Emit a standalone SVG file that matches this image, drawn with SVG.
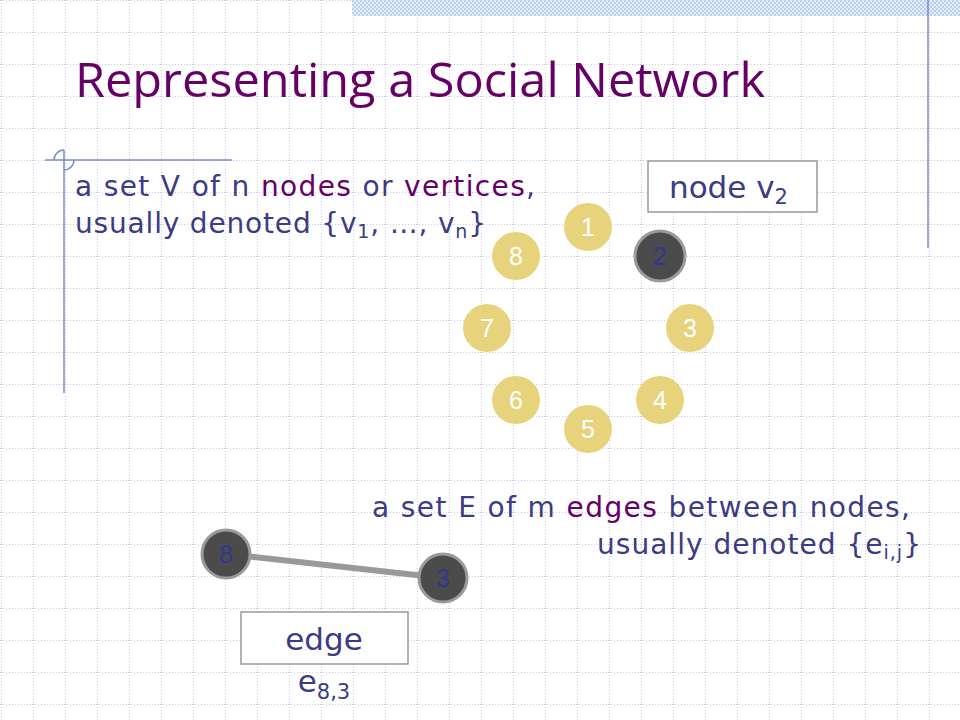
<svg xmlns="http://www.w3.org/2000/svg" width="960" height="720" viewBox="0 0 960 720">
<defs>
<pattern id="grid" x="0" y="0" width="32" height="32" patternUnits="userSpaceOnUse">
<line x1="0" y1="0.5" x2="32" y2="0.5" stroke="#c9c6e6" stroke-width="1" stroke-dasharray="1,2"/>
<line x1="1.5" y1="0" x2="1.5" y2="32" stroke="#c9c6e6" stroke-width="1" stroke-dasharray="1,2"/>
</pattern>
<pattern id="checker" x="0" y="0" width="4" height="4" patternUnits="userSpaceOnUse">
<rect width="4" height="4" fill="#e4ecf8"/>
<rect width="2" height="2" fill="#bfd0ee"/>
<rect x="2" y="2" width="2" height="2" fill="#bfd0ee"/>
</pattern>
</defs>
<style>
.title{font-family:"Open Sans","DejaVu Sans",sans-serif;font-size:48px;fill:#660066}
.body{font-family:"DejaVu Sans","Noto Sans",sans-serif;font-size:28px;fill:#3b3b86}
.hl{fill:#660066}
.sub{font-size:19px}
.yn{fill:#e8d37d}
.dn{fill:#4b4b4b;stroke:#9a9a9a;stroke-width:3}
.wl{font-family:"Liberation Sans",Arial,sans-serif;font-size:25px;fill:#ffffff;text-anchor:middle}
.bl{font-family:"Liberation Sans",Arial,sans-serif;font-size:25px;fill:#35358f;text-anchor:middle}
.box{fill:#ffffff;stroke:#9a9a9a;stroke-width:1.5}
.deco{stroke:#7b8bc9;stroke-width:1.5;fill:none}
</style>
<rect width="960" height="720" fill="#ffffff"/>
<rect width="960" height="720" fill="url(#grid)"/>
<rect x="352" y="0" width="608" height="16" fill="url(#checker)"/>
<g id="decor">
<line class="deco" x1="928" y1="0" x2="928" y2="248" stroke-width="2"/>
<line class="deco" x1="45" y1="160" x2="232" y2="160"/>
<line class="deco" x1="64" y1="150" x2="64" y2="393"/>
<path class="deco" d="M54 160 A10 10 0 0 1 64 150 M64 170 A10 10 0 0 0 74 160"/>
</g>
<text id="title" class="title" x="75" y="97" textLength="690" lengthAdjust="spacingAndGlyphs">Representing a Social Network</text>
<g id="vertex-text">
<text class="body" x="75" y="196" textLength="460" lengthAdjust="spacing">a set V of n <tspan class="hl">nodes</tspan> or <tspan class="hl">vertices</tspan>,</text>
<text class="body" x="75" y="233" textLength="411" lengthAdjust="spacing">usually denoted {v<tspan class="sub" dy="5">1</tspan><tspan dy="-5">, …, v</tspan><tspan class="sub" dy="5">n</tspan><tspan dy="-5">}</tspan></text>
</g>
<g id="node-v2-label">
<rect class="box" x="648" y="161" width="169" height="51"/>
<text class="body" x="669" y="198" style="font-size:31px">node v<tspan class="sub" dy="6" style="font-size:21px">2</tspan></text>
</g>
<g id="node1"><circle class="yn" cx="588" cy="227" r="24"/><text class="wl" x="588" y="236">1</text></g>
<g id="node2"><circle class="dn" cx="660" cy="256" r="25"/><text class="bl" x="660" y="265">2</text></g>
<g id="node3"><circle class="yn" cx="690" cy="328" r="24"/><text class="wl" x="690" y="337">3</text></g>
<g id="node4"><circle class="yn" cx="660" cy="400" r="24"/><text class="wl" x="660" y="409">4</text></g>
<g id="node5"><circle class="yn" cx="588" cy="429" r="24"/><text class="wl" x="588" y="438">5</text></g>
<g id="node6"><circle class="yn" cx="516" cy="400" r="24"/><text class="wl" x="516" y="409">6</text></g>
<g id="node7"><circle class="yn" cx="487" cy="328" r="24"/><text class="wl" x="487" y="337">7</text></g>
<g id="node8"><circle class="yn" cx="516" cy="256" r="24"/><text class="wl" x="516" y="265">8</text></g>
<g id="edge-text">
<text class="body" x="910" y="517" text-anchor="end" textLength="538" lengthAdjust="spacing">a set E of m <tspan class="hl">edges</tspan> between nodes,</text>
<text class="body" x="921" y="554" text-anchor="end" textLength="324" lengthAdjust="spacing">usually denoted {e<tspan class="sub" dy="5">i,j</tspan><tspan dy="-5">}</tspan></text>
</g>
<g id="connectors">
<line x1="226" y1="554" x2="443" y2="578" stroke="#999999" stroke-width="6"/>
</g>
<g id="edge-node8"><circle class="dn" cx="226" cy="554" r="24"/><text class="bl" x="226" y="563">8</text></g>
<g id="edge-node3"><circle class="dn" cx="443" cy="578" r="24"/><text class="bl" x="443" y="587">3</text></g>
<g id="edge-label">
<rect class="box" x="241" y="612" width="167" height="52"/>
<text class="body" x="324" y="650" text-anchor="middle" style="font-size:31px">edge</text>
<text class="body" x="324" y="692" text-anchor="middle" style="font-size:31px">e<tspan class="sub" dy="7" style="font-size:21px">8,3</tspan></text>
</g>
</svg>
